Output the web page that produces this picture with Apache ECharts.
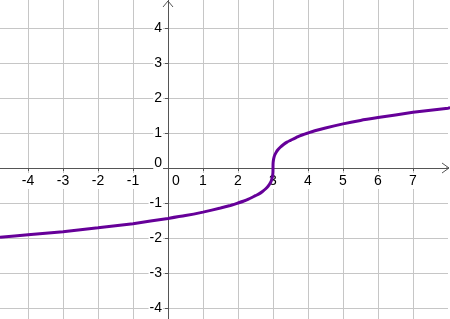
<!DOCTYPE html>
<html><head><meta charset="utf-8">
<script src="https://cdn.jsdelivr.net/npm/echarts@6/dist/echarts.min.js"></script>
<style>html,body{margin:0;padding:0;background:#fff;overflow:hidden}#c{width:450px;height:319px}</style>
</head><body><div id="c"></div>
<script>
// Curve points
const curveX = [-4.8, -4, -3, -2, -1, 0, 0.5, 1, 1.5, 1.75, 2, 2.15, 2.3, 2.5, 2.6, 2.7, 2.8, 2.86, 2.9, 2.95, 2.98, 2.995, 2.999, 3, 3.001, 3.005, 3.02, 3.05, 3.1, 3.14, 3.2, 3.3, 3.4, 3.5, 3.7, 3.85, 4, 4.25, 4.5, 5, 5.5, 6, 7, 8, 8.06];
const curveY = [-1.98, -1.91, -1.82, -1.71, -1.59, -1.44, -1.36, -1.26, -1.145, -1.08, -1.0, -0.95, -0.89, -0.79, -0.74, -0.67, -0.585, -0.52, -0.465, -0.37, -0.27, -0.17, -0.1, 0, 0.1, 0.17, 0.27, 0.37, 0.465, 0.52, 0.585, 0.67, 0.74, 0.79, 0.89, 0.95, 1.0, 1.08, 1.145, 1.26, 1.36, 1.44, 1.59, 1.71, 1.72];
const xTickLabels = [-4, -3, -2, -1, 0, 1, 2, 3, 4, 5, 6, 7];
const yTickLabels = [-4, -3, -2, -1, 0, 1, 2, 3, 4];

const axisColor = '#555555';
const gridColor = '#c6c6c6';
const font = 'Liberation Sans';
const chart = echarts.init(document.getElementById('c'), null, {renderer: 'canvas'});
const labelBase = {color: '#000', fontFamily: font, fontSize: 14};
chart.setOption({
  animation: false,
  backgroundColor: '#fff',
  grid: {left: -7, right: 2, top: 0, bottom: -24, containLabel: false, outerBoundsMode: 'none'},
  xAxis: {
    type: 'value', min: -5, max: 8, interval: 1, position: 'bottom', offset: 0,
    axisLine: {onZero: false, lineStyle: {color: axisColor, width: 1}},
    axisTick: {show: true, length: 3, lineStyle: {color: axisColor}},
    splitLine: {show: true, showMinLine: false, showMaxLine: false, lineStyle: {color: gridColor, width: 1}},
    axisLabel: {
      showMinLabel: false, showMaxLabel: false, margin: 5,
      ...labelBase,
      formatter: v => xTickLabels.includes(v) ? (v === 0 ? '{s| }{n|0}' : '{n|' + v + '}') : '',
      rich: {
        n: {...labelBase, backgroundColor: '#fff', padding: [1, 2]},
        s: {width: 16, fontSize: 1}
      }
    }
  },
  yAxis: {
    type: 'value', min: -5, max: 4.8, interval: 1, position: 'left', offset: 0,
    axisLine: {onZero: false, lineStyle: {color: axisColor, width: 1}},
    axisTick: {show: true, length: 3, lineStyle: {color: axisColor}},
    splitLine: {show: true, showMinLine: false, showMaxLine: false, lineStyle: {color: gridColor, width: 1}},
    axisLabel: {
      showMinLabel: false, showMaxLabel: false, margin: 5,
      ...labelBase,
      formatter: v => yTickLabels.includes(v) ? (v === 0 ? '{n|0}\n{s| }' : '{n|' + v + '}') : '',
      rich: {
        n: {...labelBase, backgroundColor: '#fff', padding: [1, 1], lineHeight: 16},
        s: {height: 10, lineHeight: 10, fontSize: 1}
      }
    }
  },
  series: [{
    type: 'line',
    data: curveX.map((x, i) => [x, curveY[i]]),
    symbol: 'none', showSymbol: false, clip: false, smooth: 0.2,
    lineStyle: {color: '#660099', width: 3},
    z: 5
  }]
});
// move the axes onto the origin
const origin = chart.convertToPixel({gridIndex: 0}, [0, 0]);
const corner = chart.convertToPixel({gridIndex: 0}, [-5, -5]);
chart.setOption({
  xAxis: {offset: -(corner[1] - origin[1])},
  yAxis: {offset: -(origin[0] - corner[0])}
});
const topPt = chart.convertToPixel({gridIndex: 0}, [0, 4.8]);
const rightPt = chart.convertToPixel({gridIndex: 0}, [8, 0]);
chart.setOption({
  graphic: [
    {type: 'polyline', z: 10, shape: {points: [[topPt[0] - 5, 7], [topPt[0], 1], [topPt[0] + 5, 7]]}, style: {stroke: axisColor, lineWidth: 1, fill: null}},
    {type: 'polyline', z: 10, shape: {points: [[rightPt[0] - 6, rightPt[1] - 5], [rightPt[0] + 1, rightPt[1]], [rightPt[0] - 6, rightPt[1] + 5]]}, style: {stroke: axisColor, lineWidth: 1, fill: null}},
    {type: 'line', z: 10, shape: {x1: rightPt[0] - 2, y1: rightPt[1], x2: rightPt[0] + 1, y2: rightPt[1]}, style: {stroke: axisColor, lineWidth: 1}}
  ]
});
</script>
</body></html>
